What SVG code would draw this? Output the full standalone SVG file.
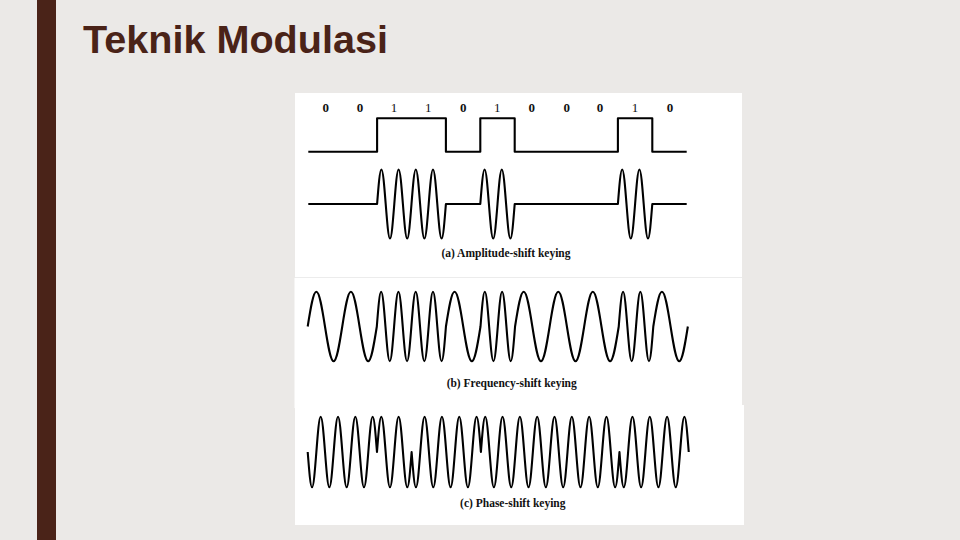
<svg xmlns="http://www.w3.org/2000/svg" width="960" height="540" viewBox="0 0 960 540">
<style>
.wave{fill:none;stroke:#000;stroke-width:2.1;stroke-linejoin:round}
.bit{font-family:"Liberation Serif","Times New Roman",serif;font-size:13px;fill:#111;text-anchor:middle}
.b0{font-weight:bold}
.cap{font-family:"Liberation Serif","Times New Roman",serif;font-size:11.5px;font-weight:bold;fill:#111;text-anchor:middle}
.panel{fill:#fff}
</style>
<rect width="960" height="540" fill="#ebe9e7"/>
<rect x="37" y="0" width="19" height="540" fill="#4a2318"/>
<text x="83" y="53" font-family="Liberation Sans, Arial, sans-serif" font-size="39.6" font-weight="bold" fill="#4a2318">Teknik Modulasi</text>

<g id="panels">
<rect class="panel" x="295" y="93" width="447" height="185"/>
<rect class="panel" x="294.5" y="278" width="447.5" height="130"/>
<rect class="panel" x="295" y="405" width="449" height="120"/>
<line x1="295" y1="277.5" x2="742" y2="277.5" stroke="#ececec" stroke-width="1"/>
</g>

<g id="bits">
<text class="bit b0" x="325.7" y="111.5">0</text>
<text class="bit b0" x="360" y="111.5">0</text>
<text class="bit" x="394" y="111.5">1</text>
<text class="bit" x="428.3" y="111.5">1</text>
<text class="bit b0" x="463.3" y="111.5">0</text>
<text class="bit" x="497.3" y="111.5">1</text>
<text class="bit b0" x="531.7" y="111.5">0</text>
<text class="bit b0" x="566.7" y="111.5">0</text>
<text class="bit b0" x="600" y="111.5">0</text>
<text class="bit" x="635" y="111.5">1</text>
<text class="bit b0" x="670" y="111.5">0</text>
</g>

<g id="digital">
<path class="wave" d="M308.3,151.7 H377.1 V118.3 H445.9 V151.7 H480.3 V118.3 H514.7 V151.7 H617.9 V118.3 H652.3 V151.7 H686.7"/>
</g>

<g id="ask">
<path class="wave" d="M308.3,204 H377.1
c1.44,-18.12 2.75,-34.5 4.3,-34.5 s2.86,16.38 4.3,34.5 s2.75,34.5 4.3,34.5 s2.86,-16.38 4.3,-34.5
s2.75,-34.5 4.3,-34.5 s2.86,16.38 4.3,34.5 s2.75,34.5 4.3,34.5 s2.86,-16.38 4.3,-34.5
s2.75,-34.5 4.3,-34.5 s2.86,16.38 4.3,34.5 s2.75,34.5 4.3,34.5 s2.86,-16.38 4.3,-34.5
s2.75,-34.5 4.3,-34.5 s2.86,16.38 4.3,34.5 s2.75,34.5 4.3,34.5 s2.86,-16.38 4.3,-34.5
H480.3
c1.44,-18.12 2.75,-34.5 4.3,-34.5 s2.86,16.38 4.3,34.5 s2.75,34.5 4.3,34.5 s2.86,-16.38 4.3,-34.5
s2.75,-34.5 4.3,-34.5 s2.86,16.38 4.3,34.5 s2.75,34.5 4.3,34.5 s2.86,-16.38 4.3,-34.5
H617.9
c1.44,-18.12 2.75,-34.5 4.3,-34.5 s2.86,16.38 4.3,34.5 s2.75,34.5 4.3,34.5 s2.86,-16.38 4.3,-34.5
s2.75,-34.5 4.3,-34.5 s2.86,16.38 4.3,34.5 s2.75,34.5 4.3,34.5 s2.86,-16.38 4.3,-34.5
H686.7"/>
<text class="cap" x="506" y="256.7">(a) Amplitude-shift keying</text>
</g>

<g id="fsk">
<path class="wave" d="M307.7,326.5
c2.89,-18.22 5.53,-34.7 8.64,-34.7 s5.75,16.48 8.64,34.7 s5.53,34.7 8.64,34.7 s5.75,-16.48 8.64,-34.7
s5.53,-34.7 8.64,-34.7 s5.75,16.48 8.64,34.7 s5.53,34.7 8.64,34.7 s5.75,-16.48 8.64,-34.7
c1.44,-18.22 2.77,-34.7 4.32,-34.7 s2.88,16.48 4.32,34.7 s2.77,34.7 4.32,34.7 s2.88,-16.48 4.32,-34.7
s2.77,-34.7 4.32,-34.7 s2.88,16.48 4.32,34.7 s2.77,34.7 4.32,34.7 s2.88,-16.48 4.32,-34.7
s2.77,-34.7 4.32,-34.7 s2.88,16.48 4.32,34.7 s2.77,34.7 4.32,34.7 s2.88,-16.48 4.32,-34.7
s2.77,-34.7 4.32,-34.7 s2.88,16.48 4.32,34.7 s2.77,34.7 4.32,34.7 s2.88,-16.48 4.32,-34.7
c2.89,-18.22 5.53,-34.7 8.64,-34.7 s5.75,16.48 8.64,34.7 s5.53,34.7 8.64,34.7 s5.75,-16.48 8.64,-34.7
c1.44,-18.22 2.77,-34.7 4.32,-34.7 s2.88,16.48 4.32,34.7 s2.77,34.7 4.32,34.7 s2.88,-16.48 4.32,-34.7
s2.77,-34.7 4.32,-34.7 s2.88,16.48 4.32,34.7 s2.77,34.7 4.32,34.7 s2.88,-16.48 4.32,-34.7
c2.89,-18.22 5.53,-34.7 8.64,-34.7 s5.75,16.48 8.64,34.7 s5.53,34.7 8.64,34.7 s5.75,-16.48 8.64,-34.7
s5.53,-34.7 8.64,-34.7 s5.75,16.48 8.64,34.7 s5.53,34.7 8.64,34.7 s5.75,-16.48 8.64,-34.7
s5.53,-34.7 8.64,-34.7 s5.75,16.48 8.64,34.7 s5.53,34.7 8.64,34.7 s5.75,-16.48 8.64,-34.7
c1.44,-18.22 2.77,-34.7 4.32,-34.7 s2.88,16.48 4.32,34.7 s2.77,34.7 4.32,34.7 s2.88,-16.48 4.32,-34.7
s2.77,-34.7 4.32,-34.7 s2.88,16.48 4.32,34.7 s2.77,34.7 4.32,34.7 s2.88,-16.48 4.32,-34.7
c2.89,-18.22 5.53,-34.7 8.64,-34.7 s5.75,16.48 8.64,34.7 s5.53,34.7 8.64,34.7 s5.75,-16.48 8.64,-34.7"/>
<text class="cap" x="511.7" y="386.7">(b) Frequency-shift keying</text>
</g>

<g id="psk">
<path class="wave" d="M307.7,452
c1.45,18.54 2.78,35.3 4.33,35.3 s2.88,-16.76 4.33,-35.3 s2.78,-35.3 4.33,-35.3 s2.88,16.76 4.33,35.3
s2.78,35.3 4.33,35.3 s2.88,-16.76 4.33,-35.3 s2.78,-35.3 4.33,-35.3 s2.88,16.76 4.33,35.3
s2.78,35.3 4.33,35.3 s2.88,-16.76 4.33,-35.3 s2.78,-35.3 4.33,-35.3 s2.88,16.76 4.33,35.3
s2.78,35.3 4.33,35.3 s2.88,-16.76 4.33,-35.3 s2.78,-35.3 4.33,-35.3 s2.88,16.76 4.33,35.3
c1.45,-18.54 2.78,-35.3 4.33,-35.3 s2.88,16.76 4.33,35.3 s2.78,35.3 4.33,35.3 s2.88,-16.76 4.33,-35.3
s2.78,-35.3 4.33,-35.3 s2.88,16.76 4.33,35.3 s2.78,35.3 4.33,35.3 s2.88,-16.76 4.33,-35.3
c1.45,18.54 2.78,35.3 4.33,35.3 s2.88,-16.76 4.33,-35.3 s2.78,-35.3 4.33,-35.3 s2.88,16.76 4.33,35.3
s2.78,35.3 4.33,35.3 s2.88,-16.76 4.33,-35.3 s2.78,-35.3 4.33,-35.3 s2.88,16.76 4.33,35.3
s2.78,35.3 4.33,35.3 s2.88,-16.76 4.33,-35.3 s2.78,-35.3 4.33,-35.3 s2.88,16.76 4.33,35.3
s2.78,35.3 4.33,35.3 s2.88,-16.76 4.33,-35.3 s2.78,-35.3 4.33,-35.3 s2.88,16.76 4.33,35.3
c1.45,-18.54 2.78,-35.3 4.33,-35.3 s2.88,16.76 4.33,35.3 s2.78,35.3 4.33,35.3 s2.88,-16.76 4.33,-35.3
s2.78,-35.3 4.33,-35.3 s2.88,16.76 4.33,35.3 s2.78,35.3 4.33,35.3 s2.88,-16.76 4.33,-35.3
s2.78,-35.3 4.33,-35.3 s2.88,16.76 4.33,35.3 s2.78,35.3 4.33,35.3 s2.88,-16.76 4.33,-35.3
s2.78,-35.3 4.33,-35.3 s2.88,16.76 4.33,35.3 s2.78,35.3 4.33,35.3 s2.88,-16.76 4.33,-35.3
s2.78,-35.3 4.33,-35.3 s2.88,16.76 4.33,35.3 s2.78,35.3 4.33,35.3 s2.88,-16.76 4.33,-35.3
s2.78,-35.3 4.33,-35.3 s2.88,16.76 4.33,35.3 s2.78,35.3 4.33,35.3 s2.88,-16.76 4.33,-35.3
s2.78,-35.3 4.33,-35.3 s2.88,16.76 4.33,35.3 s2.78,35.3 4.33,35.3 s2.88,-16.76 4.33,-35.3
s2.78,-35.3 4.33,-35.3 s2.88,16.76 4.33,35.3 s2.78,35.3 4.33,35.3 s2.88,-16.76 4.33,-35.3
c1.45,18.54 2.78,35.3 4.33,35.3 s2.88,-16.76 4.33,-35.3 s2.78,-35.3 4.33,-35.3 s2.88,16.76 4.33,35.3
s2.78,35.3 4.33,35.3 s2.88,-16.76 4.33,-35.3 s2.78,-35.3 4.33,-35.3 s2.88,16.76 4.33,35.3
s2.78,35.3 4.33,35.3 s2.88,-16.76 4.33,-35.3 s2.78,-35.3 4.33,-35.3 s2.88,16.76 4.33,35.3
s2.78,35.3 4.33,35.3 s2.88,-16.76 4.33,-35.3 s2.78,-35.3 4.33,-35.3 s2.88,16.76 4.33,35.3"/>
<text class="cap" x="512.8" y="507.3">(c) Phase-shift keying</text>
</g>
</svg>
